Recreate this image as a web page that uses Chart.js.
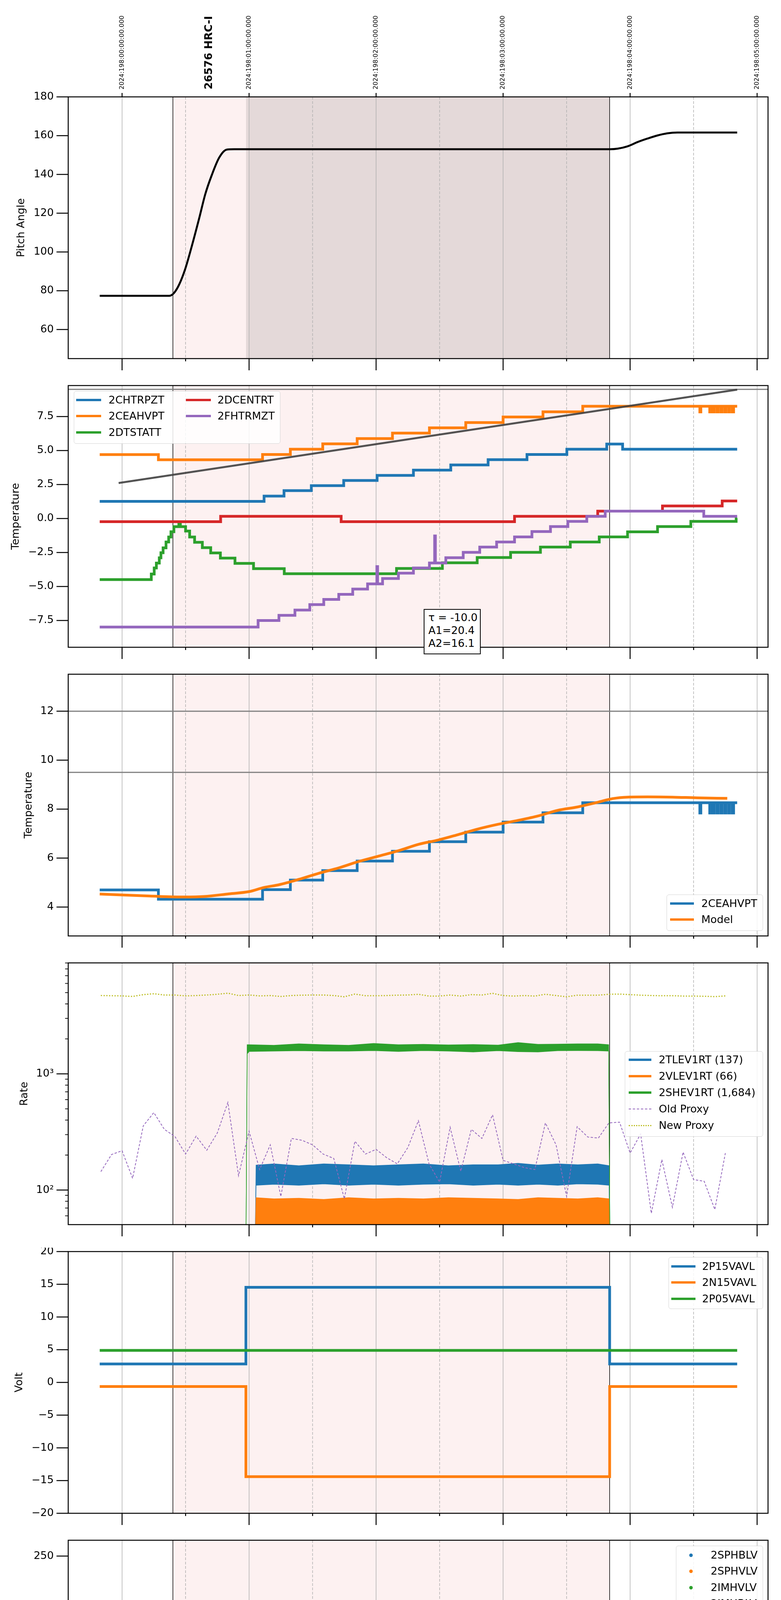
<!DOCTYPE html>
<html>
<head>
<meta charset="utf-8">
<title>HRC telemetry</title>
<script src="https://cdn.jsdelivr.net/npm/chart.js@4.4.1/dist/chart.umd.min.js"></script>
<style>
html, body { margin: 0; padding: 0; background: #fff; width: 2000px; height: 6200px; overflow: hidden; font-family: "DejaVu Sans", sans-serif; }
.panel { position: absolute; left: 0; width: 2000px; }
.leg { position: absolute; border: 1.5px solid #d4d4d4; border-radius: 6px; background: rgba(255,255,255,0.85); box-sizing: border-box; z-index: 5; }
.lt { position: absolute; font-size: 27px; line-height: 32px; white-space: nowrap; color: #000; z-index: 6; }
.sw { position: absolute; z-index: 6; }
.note { position: absolute; border: 2px solid #000; background: #fff; box-sizing: border-box; font-size: 27px; line-height: 33px; padding: 3px 0 0 10px; z-index: 6; }
</style>
</head>
<body>
<div class="note" style="left:1085px;top:1559px;width:146px;height:116px">τ = -10.0<br>A1=20.4<br>A2=16.1</div>
<script>
// ---- axes / ticks ----
const X_MIN = 19.576, X_MAX = 25.086;          // hours (24 = 00h next day)
const xTickVals = [20, 20.5, 21, 21.5, 22, 22.5, 23, 23.5, 24, 24.5, 25];
const xHourLabels = ['20h', '21h', '22h', '23h', '00h', '01h'];
const xHalfLabel = '30';
const topLabels = ['2024:198:00:00:00.000', '2024:198:01:00:00.000', '2024:198:02:00:00.000',
                   '2024:198:03:00:00.000', '2024:198:04:00:00.000', '2024:198:05:00:00.000'];
const obsLabel = '26576 HRC-I', obsLabelT = 20.687;
const OBS_START = 20.400, OBS_END = 23.839, DARK_START = 20.976;

// ---- panel 1: pitch ----
const pitchT = [19.824, 20.373, 20.412, 20.451, 20.498, 20.549, 20.608, 20.655, 20.706, 20.765, 20.824, 20.882, 23.843, 23.902, 23.980, 24.059, 24.137, 24.216, 24.294, 24.373, 24.843];
const pitchV = [77.4, 77.4, 79.1, 83.4, 91.4, 103.0, 117.6, 129.8, 139.6, 148.7, 152.8, 153.0, 153.0, 153.3, 154.5, 156.7, 158.5, 160.1, 161.2, 161.6, 161.6];
const pitchTicks = [60, 80, 100, 120, 140, 160, 180];

// ---- panel 2: temperatures ----
const p2Names = ['2CHTRPZT', '2CEAHVPT', '2DTSTATT', '2DCENTRT', '2FHTRMZT'];
const chtrT = [19.824, 21.118, 21.275, 21.490, 21.745, 22.008, 22.294, 22.588, 22.882, 23.188, 23.502, 23.816, 23.941, 24.843];
const chtrV = [1.26, 1.65, 2.05, 2.42, 2.80, 3.17, 3.56, 3.94, 4.33, 4.71, 5.10, 5.48, 5.10, 5.10];
const ceahT = [19.824, 20.286, 21.106, 21.325, 21.580, 21.851, 22.129, 22.420, 22.706, 23.000, 23.314, 23.627, 24.549, 24.557, 24.627, 24.635, 24.655, 24.663, 24.685, 24.693, 24.715, 24.723, 24.745, 24.753, 24.775, 24.783, 24.805, 24.815, 24.843];
const ceahV = [4.70, 4.32, 4.71, 5.10, 5.49, 5.88, 6.28, 6.67, 7.06, 7.47, 7.85, 8.26, 7.84, 8.26, 7.84, 8.26, 7.84, 8.26, 7.84, 8.26, 7.84, 8.26, 7.84, 8.26, 7.84, 8.26, 7.84, 8.26, 8.26];
const dtstT = [19.824, 20.230, 20.253, 20.270, 20.293, 20.306, 20.323, 20.346, 20.367, 20.385, 20.408, 20.447, 20.459, 20.500, 20.532, 20.571, 20.632, 20.698, 20.774, 20.889, 21.035, 21.277, 22.161, 22.522, 22.796, 23.059, 23.294, 23.529, 23.757, 23.980, 24.216, 24.478, 24.835, 24.843];
const dtstV = [-4.49, -4.08, -3.64, -3.28, -2.89, -2.52, -2.16, -1.73, -1.36, -0.97, -0.60, -0.37, -0.60, -0.92, -1.36, -1.75, -2.14, -2.53, -2.91, -3.30, -3.69, -4.06, -3.67, -3.26, -2.87, -2.49, -2.10, -1.73, -1.35, -0.98, -0.59, -0.21, 0.03, 0.03];
const dcenT = [19.824, 20.776, 21.725, 23.090, 23.745, 24.255, 24.725, 24.843];
const dcenV = [-0.23, 0.16, -0.23, 0.16, 0.54, 0.92, 1.29, 1.29];
const fhtrT = [19.824, 21.071, 21.235, 21.361, 21.478, 21.588, 21.706, 21.816, 21.933, 22.006, 22.012, 22.051, 22.176, 22.294, 22.420, 22.461, 22.467, 22.549, 22.686, 22.816, 22.949, 23.090, 23.227, 23.373, 23.510, 23.659, 23.804, 24.580, 24.843];
const fhtrV = [-7.98, -7.50, -7.12, -6.73, -6.33, -5.95, -5.58, -5.19, -4.81, -3.54, -4.81, -4.41, -4.02, -3.64, -3.27, -1.28, -3.27, -2.88, -2.49, -2.10, -1.73, -1.35, -0.96, -0.59, -0.21, 0.16, 0.54, 0.16, 0.16];
const trendT = [19.973, 24.843];
const trendV = [2.61, 9.48];
const p2Limit = [9.5];
const p2Ticks = [-7.5, -5, -2.5, 0, 2.5, 5, 7.5];
const p2Labels = ['\u22127.5', '\u22125.0', '\u22122.5', '0.0', '2.5', '5.0', '7.5'];

// ---- panel 3: 2CEAHVPT vs model ----
const modelT = [19.824, 20.216, 20.490, 20.647, 20.843, 21.000, 21.118, 21.235, 21.392, 21.549, 21.706, 21.863, 22.020, 22.176, 22.333, 22.490, 22.647, 22.804, 22.961, 23.118, 23.275, 23.431, 23.588, 23.745, 23.863, 23.980, 24.137, 24.333, 24.529, 24.765];
const modelV = [4.53, 4.45, 4.41, 4.43, 4.54, 4.63, 4.80, 4.91, 5.13, 5.38, 5.60, 5.86, 6.08, 6.30, 6.56, 6.74, 6.96, 7.19, 7.38, 7.54, 7.72, 7.95, 8.09, 8.28, 8.43, 8.49, 8.50, 8.49, 8.46, 8.44];
const p3Limits = [12, 9.5];
const p3Ticks = [4, 6, 8, 10, 12];

// ---- panel 4: rates (log) ----
const rateNames = ['2TLEV1RT (137)', '2VLEV1RT (66)', '2SHEV1RT (1,684)', 'Old Proxy', 'New Proxy'];
const shevT  = [20.976, 20.985, 21.000, 21.196, 21.392, 21.588, 21.784, 21.980, 22.176, 22.373, 22.569, 22.765, 22.961, 23.118, 23.275, 23.431, 23.588, 23.745, 23.831, 23.841];
const shevHi = [40, 1780, 1781, 1762, 1814, 1781, 1762, 1827, 1781, 1794, 1775, 1788, 1768, 1860, 1794, 1801, 1814, 1814, 1781, 40];
const shevLo = [40, 1487, 1559, 1570, 1582, 1570, 1570, 1587, 1559, 1587, 1570, 1542, 1582, 1553, 1542, 1582, 1587, 1582, 1570, 40];
const levT   = [21.049, 21.055, 21.196, 21.392, 21.588, 21.784, 21.980, 22.176, 22.373, 22.569, 22.765, 22.961, 23.118, 23.275, 23.431, 23.588, 23.745, 23.835, 23.839];
const tlevHi = [40, 164, 168, 162, 168, 165, 162, 165, 168, 162, 165, 165, 170, 164, 168, 165, 168, 162, 40];
const tlevLo = [40, 110, 112, 110, 113, 110, 112, 110, 112, 113, 110, 112, 110, 112, 110, 113, 112, 110, 40];
const vlevHi = [40, 86, 84, 85, 83, 86, 84, 85, 84, 86, 85, 84, 83, 86, 85, 84, 86, 84, 40];
const vlevLo = [40, 40, 40, 40, 40, 40, 40, 40, 40, 40, 40, 40, 40, 40, 40, 40, 40, 40, 40];
const proxyT = [19.833, 19.917, 20.000, 20.083, 20.167, 20.250, 20.333, 20.417, 20.500, 20.583, 20.667, 20.750, 20.833, 20.917, 21.000, 21.083, 21.167, 21.250, 21.333, 21.417, 21.500, 21.583, 21.667, 21.750, 21.833, 21.917, 22.000, 22.083, 22.167, 22.250, 22.333, 22.417, 22.500, 22.583, 22.667, 22.750, 22.833, 22.917, 23.000, 23.083, 23.167, 23.250, 23.333, 23.417, 23.500, 23.583, 23.667, 23.750, 23.833, 23.917, 24.000, 24.083, 24.167, 24.250, 24.333, 24.417, 24.500, 24.583, 24.667, 24.750];
const oldProxy = [144, 202, 218, 126, 357, 464, 333, 288, 204, 291, 220, 310, 568, 133, 321, 150, 245, 88, 278, 268, 245, 204, 187, 84, 263, 204, 224, 190, 168, 232, 395, 168, 117, 347, 145, 333, 278, 444, 180, 168, 156, 150, 378, 245, 88, 351, 286, 280, 378, 384, 208, 304, 63, 183, 71, 212, 123, 119, 68, 208];
const newProxy = [4721, 4704, 4686, 4636, 4807, 4894, 4772, 4772, 4686, 4721, 4772, 4842, 4948, 4721, 4772, 4686, 4721, 4636, 4721, 4755, 4772, 4772, 4721, 4603, 4859, 4704, 4704, 4721, 4755, 4772, 4842, 4670, 4670, 4772, 4670, 4807, 4772, 4930, 4721, 4670, 4721, 4670, 4842, 4721, 4603, 4755, 4755, 4755, 4842, 4859, 4807, 4755, 4721, 4704, 4704, 4670, 4670, 4653, 4620, 4686];
const rateTicks = [100, 1000];
const rateLabels = ['10\u00b2', '10\u00b3'];
const rateMinor = [60, 70, 80, 90, 200, 300, 400, 500, 600, 700, 800, 900, 2000, 3000, 4000, 5000, 6000, 7000, 8000, 9000];

// ---- panel 5: voltages ----
const voltNames = ['2P15VAVL', '2N15VAVL', '2P05VAVL'];
const voltT = [19.824, 20.975, 23.839, 24.843];
const p15V = [2.82, 14.53, 2.82, 2.82];
const n15V = [-0.62, -14.4, -0.62, -0.62];
const p05T = [19.824, 24.843];
const p05V = [4.9, 4.9];
const voltTicks = [-20, -15, -10, -5, 0, 5, 10, 15, 20];
const voltLabels = ['\u221220', '\u221215', '\u221210', '\u22125', '0', '5', '10', '15', '20'];

// ---- panel 6: HV monitor ----
const hvNames = ['2SPHBLV', '2SPHVLV', '2IMHVLV', '2IMHBLV'];
const imhvBandT = [21.059, 23.839];
const imhvBandV = [79.5, 79.5];
const imhvPtsT = [21.000, 21.012, 21.024, 21.039, 21.051, 23.239, 23.753, 23.816, 23.839];
const imhvPtsV = [100, 95.6, 90, 85.5, 81.7, 127, 127, 127, 127];
const imhbBandT = [21.047, 23.843];
const imhbBandV = [86.2, 86.2];
const imhbPtsT = [21.000, 21.000, 21.004, 21.012, 21.024, 21.031, 21.039, 23.239, 23.753, 23.816, 23.839];
const imhbPtsV = [126.7, 119.0, 105.7, 101.0, 97.5, 93.0, 89.0, 79.5, 79.5, 79.5, 79.5];
const hvTicks = [0, 50, 100, 150, 200, 250];

// ---- panel 7: detector temps ----
const detNames = ['2SPINATM', '2SPHVATM', '2IMINATM', '2IMHVATM'];
const spinT = [20.988, 21.325, 22.490, 23.102, 23.110, 23.125, 23.133, 23.145, 23.153, 23.165, 23.173, 23.188, 23.196, 23.212, 23.220, 23.235, 23.243, 23.259, 23.267, 23.275, 23.300, 23.318, 23.345, 23.355, 23.627, 23.640, 23.690, 23.700, 23.722, 23.732, 23.796, 23.804, 23.824];
const spinV = [1.76, 1.31, 1.76, -5, 1.76, -5, 1.76, -5, 1.76, -5, 1.76, -5, 1.76, -5, 1.76, -5, 1.76, -5, 1.76, 2.21, -5, 2.21, -5, 2.21, -5, 2.21, -5, 2.21, -5, 2.21, -5, 2.21, 2.21];
const sphvT = [20.975, 20.982, 21.549, 21.929, 22.224, 22.502, 22.784, 23.047, 23.106, 23.114, 23.125, 23.133, 23.145, 23.153, 23.165, 23.173, 23.188, 23.196, 23.212, 23.220, 23.235, 23.243, 23.259, 23.267, 23.294, 23.345, 23.351, 23.404, 23.410, 23.569, 23.627, 23.633, 23.690, 23.696, 23.722, 23.728, 23.796, 23.802, 23.824];
const sphvV = [-5, 12.63, 12.95, 13.28, 13.63, 13.98, 14.31, 14.63, 8.7, 14.63, 8.8, 14.63, 8.95, 14.63, 8.95, 14.63, 8.95, 14.63, 8.95, 14.63, 8.95, 14.63, 8.95, 14.63, 14.98, 9.0, 14.98, 9.3, 14.98, 15.30, 9.32, 15.30, 9.6, 15.30, 9.6, 15.30, 9.6, 15.30, 15.30];
const iminT = [20.988, 21.920, 21.926, 22.071, 23.090, 23.110, 23.118, 23.137, 23.145, 23.165, 23.173, 23.188, 23.196, 23.212, 23.220, 23.235, 23.243, 23.259, 23.267, 23.275, 23.282, 23.310, 23.318, 23.345, 23.351, 23.412, 23.418, 23.627, 23.633, 23.698, 23.704, 23.745, 23.751, 23.800, 23.806, 23.824];
const iminV = [-0.52, 0.0, -0.52, -0.08, 0.39, 1.79, 0.39, 1.79, 0.39, 1.79, 0.39, 1.79, 0.39, 1.79, 0.39, 1.79, 0.39, 1.79, 0.39, 2.25, 0.39, 2.25, 0.39, 2.25, 0.39, 2.25, 0.39, 2.25, 0.39, 2.25, 0.39, 2.25, 0.39, 2.25, 0.39, 0.39];
const imhvaT = [20.975, 20.980, 21.129, 21.247, 21.353, 21.471, 21.588, 21.729, 21.882, 22.047, 22.224, 22.420, 22.627, 22.855, 23.078, 23.110, 23.118, 23.137, 23.145, 23.165, 23.173, 23.188, 23.196, 23.212, 23.220, 23.235, 23.243, 23.259, 23.267, 23.314, 23.345, 23.351, 23.404, 23.410, 23.569, 23.698, 23.704, 23.745, 23.751, 23.796, 23.802, 23.851, 23.856];
const imhvaV = [-5, 12.0, 12.37, 12.63, 12.95, 13.30, 13.63, 13.98, 14.31, 14.63, 14.98, 15.33, 15.65, 16.0, 16.35, 14.56, 16.35, 14.56, 16.35, 14.56, 16.35, 14.56, 16.35, 14.56, 16.35, 14.56, 16.35, 14.56, 16.35, 16.73, 14.91, 16.73, 14.91, 16.73, 17.11, 14.91, 17.11, 14.91, 17.11, 14.91, 17.11, 25, -5];
const detTicks = [0, 2.5, 5, 7.5, 10, 12.5, 15, 17.5];
const detLabels = ['0.0', '2.5', '5.0', '7.5', '10.0', '12.5', '15.0', '17.5'];

// ---- panel 8: FEA temps ----
const feaNames = ['2FHTRMZT', '2FRADPYT', '2FEPRATM', '2FE00ATM'];
const fradT = [21.302, 21.306, 21.420, 21.529, 21.647, 21.773, 21.890, 22.020, 22.149, 22.275, 22.412, 22.541, 22.686, 22.824, 22.973, 23.125, 23.275, 23.424, 23.576, 23.773, 24.306, 24.635, 24.843];
const fradV = [-9.5, -8.37, -7.98, -7.58, -7.18, -6.76, -6.37, -5.98, -5.59, -5.20, -4.80, -4.41, -4.02, -3.63, -3.27, -2.87, -2.49, -2.12, -1.76, -1.35, -1.76, -2.12, -2.12];
const feprT = [20.975, 20.980, 21.020, 21.059, 21.106, 21.157, 21.224, 21.306, 21.400, 21.498, 21.608, 21.725, 21.843, 21.965, 22.098, 22.224, 22.365, 22.498, 22.647, 22.804, 22.961, 23.098, 23.114, 23.120, 23.137, 23.143, 23.161, 23.167, 23.180, 23.186, 23.200, 23.206, 23.220, 23.226, 23.294, 23.314, 23.320, 23.345, 23.351, 23.365, 23.371, 23.412, 23.418, 23.431, 23.608, 23.637, 23.643, 23.706, 23.712, 23.725, 23.731, 23.745, 23.751, 23.816, 23.822, 23.826];
const feprV = [-9.5, -8.12, -7.70, -7.27, -6.86, -6.43, -6.02, -5.61, -5.18, -4.78, -4.37, -3.93, -3.53, -3.10, -2.68, -2.26, -1.81, -1.39, -0.96, -0.53, -0.08, 0.37, -6.08, 0.37, -6.08, 0.37, -6.08, 0.37, -6.08, 0.37, -6.08, 0.37, -6.08, 0.37, 0.82, -6.08, 0.82, -6.08, 0.82, -6.08, 0.82, -6.08, 0.82, 1.28, 1.6, -6.08, 1.6, -6.08, 1.6, -6.08, 1.6, -6.08, 1.6, -6.08, 1.6, 1.6];
const fe00T = [21.102, 21.106, 21.216, 21.294, 21.380, 21.471, 21.549, 21.635, 21.725, 21.812, 21.902, 22.000, 22.098, 22.196, 22.255, 22.384, 22.490, 22.596, 22.698, 22.804, 22.914, 23.020, 23.078, 23.102, 23.110, 23.125, 23.133, 23.145, 23.153, 23.165, 23.173, 23.188, 23.196, 23.212, 23.220, 23.235, 23.243, 23.259, 23.267, 23.282, 23.286, 23.314, 23.345, 23.351, 23.404, 23.410, 23.471, 23.588, 23.627, 23.633, 23.706, 23.722, 23.728, 23.745, 23.751, 23.839, 23.845, 23.851, 23.857];
const fe00V = [-9.5, -8.53, -8.20, -7.84, -7.47, -7.10, -6.75, -6.39, -6.04, -5.67, -5.35, -5.00, -4.64, -4.31, -3.96, -3.63, -3.28, -2.94, -2.61, -2.29, -1.96, -1.61, -1.35, 2.0, -1.35, 2.0, -1.35, 2.0, -1.35, 2.0, -1.35, 2.0, -1.35, 2.0, -1.35, 2.0, -1.35, 2.0, -1.35, -9.5, -1.0, -0.61, 2.0, -0.61, 2.0, -0.61, -0.29, 0.06, 2.0, 0.06, 0.29, 2.0, 0.29, 2.0, 0.29, 2.0, -9.5, 2.0, -9.5];
const feaTicks = [-8, -6, -4, -2, 0];
const feaLabels = ['\u22128', '\u22126', '\u22124', '\u22122', '0'];

// ---- layout ----
const F = "'DejaVu Sans', sans-serif";
const AX_LEFT = 174.7, PAD_RIGHT = 33.2;
const PANEL_TOP = [248, 987, 1726, 2465, 3204, 3943, 4682, 5421];
const PANEL_H = 670;
const C = { blue: '#1f77b4', orange: '#ff7f0e', green: '#2ca02c', red: '#d62728', purple: '#9467bd', olive: '#bcbd22' };

Chart.defaults.font.family = F;
Chart.defaults.color = '#000';

const pts = (ts, vs) => ts.map((t, i) => ({ x: t, y: vs[i] }));
// value holds until the next sample (horizontal first, then vertical)
const step = (ts, vs, color, w) => ({ data: pts(ts, vs), borderColor: color, borderWidth: w || 7, stepped: 'before', fill: false });

// shading, grid, frame, tick marks
const decor = {
  id: 'decor',
  beforeDatasetsDraw(chart, args, o) {
    const { ctx, chartArea: a } = chart;
    const x = chart.scales.x, y = chart.scales.y;
    const px = v => x.getPixelForValue(v);
    ctx.save();
    ctx.beginPath();
    ctx.rect(a.left, a.top, a.right - a.left, a.bottom - a.top);
    ctx.clip();
    ctx.fillStyle = '#fdf1f1';
    ctx.fillRect(px(OBS_START), a.top, px(OBS_END) - px(OBS_START), a.bottom - a.top);
    if (o.dark) {
      ctx.fillStyle = '#e4d9d9';
      ctx.fillRect(px(DARK_START), a.top, px(OBS_END) - px(DARK_START), a.bottom - a.top);
    }
    ctx.strokeStyle = '#b0b0b0';
    ctx.lineWidth = 1.5;
    xTickVals.forEach(v => {
      ctx.setLineDash(v % 1 === 0 ? [] : [7, 4]);
      ctx.beginPath(); ctx.moveTo(px(v), a.top); ctx.lineTo(px(v), a.bottom); ctx.stroke();
    });
    ctx.setLineDash([]);
    ctx.strokeStyle = '#000';
    [OBS_START, OBS_END].forEach(v => {
      ctx.beginPath(); ctx.moveTo(px(v), a.top); ctx.lineTo(px(v), a.bottom); ctx.stroke();
    });
    ctx.strokeStyle = '#808080';
    ctx.lineWidth = 3;
    (o.hlines || []).forEach(v => {
      const py = y.getPixelForValue(v);
      ctx.beginPath(); ctx.moveTo(a.left, py); ctx.lineTo(a.right, py); ctx.stroke();
    });
    ctx.restore();
  },
  afterDraw(chart, args, o) {
    const { ctx, chartArea: a } = chart;
    const x = chart.scales.x, y = chart.scales.y;
    const px = v => x.getPixelForValue(v);
    ctx.save();
    ctx.strokeStyle = '#000';
    ctx.lineWidth = 2.5;
    ctx.strokeRect(a.left, a.top, a.right - a.left, a.bottom - a.top);
    y.ticks.forEach(t => {
      const py = y.getPixelForValue(t.value);
      ctx.beginPath(); ctx.moveTo(a.left - 30, py); ctx.lineTo(a.left, py); ctx.stroke();
    });
    xTickVals.forEach(v => {
      const len = v % 1 === 0 ? 30 : 7;
      ctx.beginPath(); ctx.moveTo(px(v), a.bottom); ctx.lineTo(px(v), a.bottom + len); ctx.stroke();
    });
    ctx.lineWidth = 1.8;
    (o.yMinor || []).forEach(v => {
      const py = y.getPixelForValue(v);
      ctx.beginPath(); ctx.moveTo(a.left - 8, py); ctx.lineTo(a.left, py); ctx.stroke();
    });
    if (o.top) {
      ctx.lineWidth = 2.5;
      ctx.fillStyle = '#000';
      ctx.textAlign = 'left';
      ctx.textBaseline = 'middle';
      xTickVals.filter(v => v % 1 === 0).forEach((v, i) => {
        ctx.beginPath(); ctx.moveTo(px(v), a.top - 10); ctx.lineTo(px(v), a.top); ctx.stroke();
        ctx.save();
        ctx.translate(px(v), a.top - 19);
        ctx.rotate(-Math.PI / 2);
        ctx.font = '16px ' + F;
        ctx.fillText(topLabels[i], 0, 0);
        ctx.restore();
      });
      ctx.save();
      ctx.translate(px(obsLabelT), a.top - 19);
      ctx.rotate(-Math.PI / 2);
      ctx.font = 'bold 27px ' + F;
      ctx.fillText(obsLabel, 0, 0);
      ctx.restore();
    }
    ctx.restore();
  }
};
Chart.register(decor);

function xScale(last, bottomH) {
  return {
    type: 'linear', min: X_MIN, max: X_MAX, bounds: 'data',
    grid: { display: false, drawTicks: false },
    border: { display: false },
    afterBuildTicks: s => { s.ticks = xTickVals.map(v => ({ value: v })); },
    afterFit: s => { s.height = bottomH; s.paddingLeft = 0; s.paddingRight = 0; },
    ticks: {
      display: last, autoSkip: false, maxRotation: 0, minRotation: 0, padding: 4, color: '#000',
      font: c => (c.tick && c.tick.value % 1 === 0) ? { family: F, size: 28, lineHeight: 1.05 } : { family: F, size: 18, lineHeight: 1.2 },
      callback: v => v % 1 === 0 ? ['', xHourLabels[v - 20]] : xHalfLabel
    },
    title: last
      ? { display: true, text: '2024-07-16 (198)', color: '#000', font: { family: F, size: 31 }, padding: { top: 0, bottom: 2.4 } }
      : { display: false }
  };
}

function yScale(o) {
  return {
    type: o.type || 'linear', min: o.min, max: o.max, bounds: 'data',
    grid: { display: false, drawTicks: false },
    border: { display: false },
    afterBuildTicks: s => { s.ticks = o.ticks.map(v => ({ value: v })); },
    afterFit: s => { s.width = AX_LEFT; s.paddingTop = 0; s.paddingBottom = 0; },
    ticks: {
      autoSkip: false, padding: 37, color: '#000', font: { family: F, size: 27 },
      callback: (v, i) => o.labels ? o.labels[i] : String(v)
    },
    title: { display: true, text: o.title, color: '#000', font: { family: F, size: 27 }, padding: { top: o.titleX - 16.2, bottom: 0 } }
  };
}

function makeChart(k, cfg) {
  const last = k === PANEL_TOP.length - 1;
  const padTop = k === 0 ? PANEL_TOP[0] : 10;
  const bottomH = last ? 6200 - PANEL_TOP[k] - PANEL_H : 45;
  const div = document.createElement('div');
  div.className = 'panel';
  div.style.top = (PANEL_TOP[k] - padTop) + 'px';
  div.style.height = (padTop + PANEL_H + bottomH) + 'px';
  const cv = document.createElement('canvas');
  div.appendChild(cv);
  document.body.appendChild(div);
  cfg.datasets.forEach((d, i) => {
    d.order = -i;
    if (d.pointRadius === undefined) d.pointRadius = 0;
    d.clip = 0;
  });
  return new Chart(cv, {
    type: 'line',
    data: { datasets: cfg.datasets },
    options: {
      responsive: true, maintainAspectRatio: false, animation: false, events: [],
      layout: { padding: { top: padTop, left: 0, right: PAD_RIGHT, bottom: 0 } },
      plugins: { legend: { display: false }, tooltip: { enabled: false }, decor: cfg.decor || {} },
      scales: { x: xScale(last, bottomH), y: yScale(cfg.y) }
    }
  });
}

// legend boxes drawn as html
function legend(box, items) {
  const el = document.createElement('div');
  el.className = 'leg';
  el.style.left = box[0] + 'px'; el.style.top = box[1] + 'px';
  el.style.width = (box[2] - box[0]) + 'px'; el.style.height = (box[3] - box[1]) + 'px';
  document.body.appendChild(el);
  items.forEach(it => {
    const s = document.createElement('div');
    s.className = 'sw';
    if (it.kind === 'dot') {
      s.style.left = (it.sx - 4.5) + 'px'; s.style.top = (it.y - 4.5) + 'px';
      s.style.width = '9px'; s.style.height = '9px'; s.style.borderRadius = '50%';
      s.style.background = it.color;
    } else {
      const w = it.w || 6;
      s.style.left = it.sx + 'px'; s.style.top = (it.y - w / 2) + 'px';
      s.style.width = (it.ex - it.sx) + 'px'; s.style.height = '0';
      s.style.borderTop = w + 'px ' + (it.kind || 'solid') + ' ' + it.color;
    }
    document.body.appendChild(s);
    const t = document.createElement('div');
    t.className = 'lt';
    t.textContent = it.label;
    t.style.left = it.tx + 'px'; t.style.top = (it.y - 16) + 'px';
    document.body.appendChild(t);
  });
}

// ---- panel 1 ----
makeChart(0, {
  y: { min: 45, max: 180, ticks: pitchTicks, title: 'Pitch Angle', titleX: 55 },
  decor: { dark: true, top: true },
  datasets: [
    { data: pts(pitchT, pitchV), borderColor: '#000', borderWidth: 5, cubicInterpolationMode: 'monotone', fill: false }
  ]
});

// ---- panel 2 ----
makeChart(1, {
  y: { min: -9.47, max: 9.78, ticks: p2Ticks, labels: p2Labels, title: 'Temperature', titleX: 41 },
  decor: { hlines: p2Limit },
  datasets: [
    step(chtrT, chtrV, C.blue),
    step(ceahT, ceahV, C.orange),
    step(dtstT, dtstV, C.green),
    step(dcenT, dcenV, C.red),
    step(fhtrT, fhtrV, C.purple),
    { data: pts(trendT, trendV), borderColor: 'rgba(64,64,64,0.9)', borderWidth: 5, fill: false }
  ]
});
legend([189, 1001, 718, 1136], [
  { label: p2Names[0], color: C.blue, sx: 195, ex: 259, tx: 278, y: 1024 },
  { label: p2Names[1], color: C.orange, sx: 195, ex: 259, tx: 278, y: 1065 },
  { label: p2Names[2], color: C.green, sx: 195, ex: 259, tx: 278, y: 1107 },
  { label: p2Names[3], color: C.red, sx: 476, ex: 540, tx: 557, y: 1024 },
  { label: p2Names[4], color: C.purple, sx: 476, ex: 540, tx: 557, y: 1065 }
]);

// ---- panel 3 ----
makeChart(2, {
  y: { min: 2.82, max: 13.51, ticks: p3Ticks, title: 'Temperature', titleX: 74 },
  decor: { hlines: p3Limits },
  datasets: [
    step(ceahT, ceahV, C.blue),
    { data: pts(modelT, modelV), borderColor: C.orange, borderWidth: 7, cubicInterpolationMode: 'monotone', fill: false }
  ]
});
legend([1707, 2290, 1954, 2383], [
  { label: '2CEAHVPT', color: C.blue, sx: 1716, ex: 1777, tx: 1796, y: 2313 },
  { label: 'Model', color: C.orange, sx: 1716, ex: 1777, tx: 1796, y: 2354 }
]);

// ---- panel 4 ----
const band = (ts, vs, color, fill) => ({ data: pts(ts, vs), borderColor: color, borderWidth: 1.5, backgroundColor: color, fill: fill });
makeChart(3, {
  y: { type: 'logarithmic', min: 50.4, max: 9016, ticks: rateTicks, labels: rateLabels, title: 'Rate', titleX: 62.5 },
  decor: { yMinor: rateMinor },
  datasets: [
    band(levT, tlevHi, C.blue, '+1'),
    band(levT, tlevLo, C.blue, false),
    band(levT, vlevHi, C.orange, '+1'),
    band(levT, vlevLo, C.orange, false),
    band(shevT, shevHi, C.green, '+1'),
    band(shevT, shevLo, C.green, false),
    { data: pts(proxyT, oldProxy), borderColor: C.purple, borderWidth: 2, borderDash: [6, 4], fill: false },
    { data: pts(proxyT, newProxy), borderColor: C.olive, borderWidth: 3, borderDash: [3, 4], fill: false }
  ]
});
legend([1600, 2691, 1954, 2910], [
  { label: rateNames[0], color: C.blue, sx: 1610, ex: 1668, tx: 1687, y: 2713 },
  { label: rateNames[1], color: C.orange, sx: 1610, ex: 1668, tx: 1687, y: 2755 },
  { label: rateNames[2], color: C.green, sx: 1610, ex: 1668, tx: 1687, y: 2797 },
  { label: rateNames[3], color: C.purple, sx: 1610, ex: 1668, tx: 1687, y: 2839, kind: 'dashed', w: 2 },
  { label: rateNames[4], color: C.olive, sx: 1610, ex: 1668, tx: 1687, y: 2881, kind: 'dotted', w: 3 }
]);

// ---- panel 5 ----
makeChart(4, {
  y: { min: -20, max: 20, ticks: voltTicks, labels: voltLabels, title: 'Volt', titleX: 50 },
  datasets: [
    step(voltT, p15V, C.blue),
    step(voltT, n15V, C.orange),
    step(p05T, p05V, C.green)
  ]
});
legend([1712, 3218, 1954, 3351], [
  { label: voltNames[0], color: C.blue, sx: 1719, ex: 1781, tx: 1798, y: 3242 },
  { label: voltNames[1], color: C.orange, sx: 1719, ex: 1781, tx: 1798, y: 3283 },
  { label: voltNames[2], color: C.green, sx: 1719, ex: 1781, tx: 1798, y: 3325 }
]);

// ---- panel 6 ----
const dots = (ts, vs, color) => ({ data: pts(ts, vs), showLine: false, pointRadius: 4.5, pointBorderWidth: 0, pointBackgroundColor: color, borderColor: color });
const dotBand = (ts, vs, color) => ({ data: pts(ts, vs), borderColor: color, borderWidth: 10, borderCapStyle: 'round', fill: false });
makeChart(5, {
  y: { min: 0, max: 266.1, ticks: hvTicks, title: 'HV Monitor', titleX: 54 },
  datasets: [
    dotBand(imhvBandT, imhvBandV, C.green),
    dots(imhvPtsT, imhvPtsV, C.green),
    dotBand(imhbBandT, imhbBandV, C.red),
    dots(imhbPtsT, imhbPtsV, C.red)
  ]
});
legend([1731, 3957, 1954, 4132], [
  { label: hvNames[0], color: C.blue, sx: 1769, tx: 1820, y: 3981, kind: 'dot' },
  { label: hvNames[1], color: C.orange, sx: 1769, tx: 1820, y: 4022, kind: 'dot' },
  { label: hvNames[2], color: C.green, sx: 1769, tx: 1820, y: 4064, kind: 'dot' },
  { label: hvNames[3], color: C.red, sx: 1769, tx: 1820, y: 4105, kind: 'dot' }
]);

// ---- panel 7 ----
makeChart(6, {
  y: { min: -2.01, max: 17.85, ticks: detTicks, labels: detLabels, title: 'Detector Temp', titleX: 44.6 },
  datasets: [
    step(spinT, spinV, C.blue),
    step(sphvT, sphvV, C.orange),
    step(iminT, iminV, C.green),
    step(imhvaT, imhvaV, C.red)
  ]
});
legend([1707, 4695, 1954, 4872], [
  { label: detNames[0], color: C.blue, sx: 1713, ex: 1777, tx: 1796, y: 4719 },
  { label: detNames[1], color: C.orange, sx: 1713, ex: 1777, tx: 1796, y: 4760 },
  { label: detNames[2], color: C.green, sx: 1713, ex: 1777, tx: 1796, y: 4802 },
  { label: detNames[3], color: C.red, sx: 1713, ex: 1777, tx: 1796, y: 4843 }
]);

// ---- panel 8 ----
makeChart(7, {
  y: { min: -8.68, max: 1.527, ticks: feaTicks, labels: feaLabels, title: 'FEA Temp', titleX: 68 },
  datasets: [
    step(fhtrT, fhtrV, C.blue),
    step(fradT, fradV, C.orange),
    step(feprT, feprV, C.green),
    step(fe00T, fe00V, C.red)
  ]
});
legend([189, 5434, 438, 5610], [
  { label: feaNames[0], color: C.blue, sx: 195, ex: 259, tx: 278, y: 5458 },
  { label: feaNames[1], color: C.orange, sx: 195, ex: 259, tx: 278, y: 5499 },
  { label: feaNames[2], color: C.green, sx: 195, ex: 259, tx: 278, y: 5541 },
  { label: feaNames[3], color: C.red, sx: 195, ex: 259, tx: 278, y: 5583 }
]);
</script>
</body>
</html>
